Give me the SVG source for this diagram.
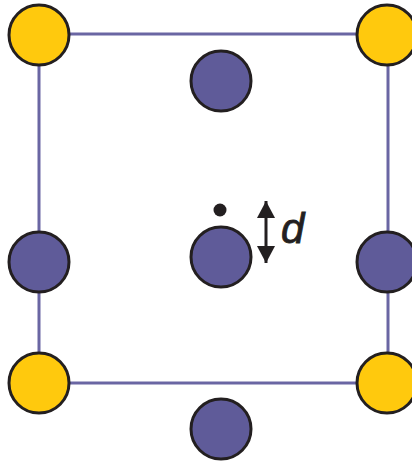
<svg xmlns="http://www.w3.org/2000/svg" width="412" height="462" viewBox="0 0 412 462">
<style>
.y{fill:#ffc90d;stroke:#231f20;stroke-width:3}
.p{fill:#5f5b99;stroke:#231f20;stroke-width:3}
.e{stroke:#6a66a3;stroke-width:3;fill:none}
</style>
<defs>
<marker id="ah" viewBox="0 0 17 18" refX="17" refY="9" markerWidth="17" markerHeight="18" markerUnits="userSpaceOnUse" orient="auto-start-reverse">
<path d="M0,0 L17,9 L0,18 Z" fill="#231f20"/>
</marker>
</defs>
<rect width="412" height="462" fill="#fff"/>
<g id="connectors">
<rect class="e" x="39" y="34" width="349" height="349"/>
<line x1="266" y1="201" x2="266" y2="263" stroke="#231f20" stroke-width="3" marker-start="url(#ah)" marker-end="url(#ah)"/>
</g>
<g id="n-tl"><circle class="y" cx="39" cy="35" r="30"/></g>
<g id="n-tr"><circle class="y" cx="387" cy="35" r="30"/></g>
<g id="n-bl"><circle class="y" cx="39" cy="383" r="30"/></g>
<g id="n-br"><circle class="y" cx="387" cy="383" r="30"/></g>
<g id="n-top"><circle class="p" cx="221" cy="81" r="30"/></g>
<g id="n-left"><circle class="p" cx="39" cy="262" r="30"/></g>
<g id="n-center"><circle class="p" cx="221" cy="257" r="30"/></g>
<g id="n-right"><circle class="p" cx="387" cy="262" r="30"/></g>
<g id="n-bottom"><circle class="p" cx="221" cy="429" r="30"/></g>
<g id="n-dot"><circle cx="220" cy="210" r="6.5" fill="#231f20"/></g>
<g id="label-d"><text x="281" y="243" font-family="Liberation Sans, Arial, sans-serif" font-style="italic" font-size="42" fill="#231f20" stroke="#231f20" stroke-width="0.8">d</text></g>
</svg>
